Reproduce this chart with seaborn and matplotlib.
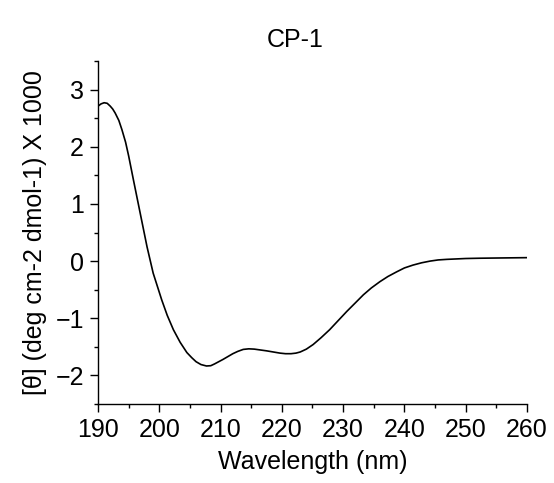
import numpy as np
import pandas as pd
import matplotlib
matplotlib.use("Agg")
import matplotlib.pyplot as plt
from matplotlib.ticker import MultipleLocator
import seaborn as sns

# values
wavelength = [190.0, 190.5, 191.0, 191.5, 192.0, 192.4, 192.8, 193.4, 193.9, 194.5,
              195.0, 195.8, 196.9, 198.0, 199.0, 200.4, 201.3, 202.3, 203.4, 204.5,
              205.3, 206.0, 206.8, 207.7, 208.4, 209.0, 210.4, 211.2, 212.0, 212.8,
              213.7, 214.6, 215.5, 216.5, 217.5, 218.6, 219.7, 220.6, 221.5, 222.3,
              223.0, 224.0, 225.1, 226.4, 227.8, 229.2, 230.6, 232.0, 233.3, 234.6,
              236.0, 237.3, 238.7, 240.0, 241.4, 242.8, 244.2, 245.5, 246.9, 250.0,
              252.3, 256.0, 260.0]
ellipticity = [2.71, 2.75, 2.77, 2.76, 2.71, 2.66, 2.59, 2.46, 2.30, 2.08,
               1.84, 1.41, 0.83, 0.25, -0.21, -0.68, -0.95, -1.20, -1.42, -1.60,
               -1.69, -1.76, -1.81, -1.835, -1.83, -1.80, -1.72, -1.67, -1.62, -1.58,
               -1.545, -1.535, -1.54, -1.555, -1.57, -1.59, -1.61, -1.62, -1.62, -1.61,
               -1.59, -1.54, -1.46, -1.34, -1.20, -1.04, -0.88, -0.73, -0.59, -0.47,
               -0.36, -0.27, -0.19, -0.12, -0.07, -0.03, 0.00, 0.02, 0.03, 0.045,
               0.05, 0.055, 0.06]
x_ticks = [190, 200, 210, 220, 230, 240, 250, 260]
y_ticks = [-2, -1, 0, 1, 2, 3]

df = pd.DataFrame({"wavelength": wavelength, "theta": ellipticity})

sns.set_style("ticks")
plt.rcParams['font.family'] = ['Liberation Sans', 'DejaVu Sans']
plt.rcParams['text.color'] = 'black'
plt.rcParams['axes.labelcolor'] = 'black'
plt.rcParams['xtick.color'] = 'black'
plt.rcParams['ytick.color'] = 'black'

fig = plt.figure(figsize=(5.54, 4.83), dpi=100)
ax = fig.add_axes([98 / 554, 79 / 483, 429 / 554, 343 / 483])

sns.lineplot(data=df, x="wavelength", y="theta", ax=ax, color="black", linewidth=1.2)

ax.set_xlim(190, 260)
ax.set_ylim(-2.5, 3.5)
ax.set_xticks(x_ticks)
ax.set_yticks(y_ticks)
ax.xaxis.set_minor_locator(MultipleLocator(5))
ax.yaxis.set_minor_locator(MultipleLocator(0.5))
ax.tick_params(which="major", length=6, width=1, labelsize=18, color="black", pad=4)
ax.tick_params(which="minor", length=3, width=1, color="black")
for s in ["top", "right"]:
    ax.spines[s].set_visible(False)
for s in ["left", "bottom"]:
    ax.spines[s].set_color("black")
    ax.spines[s].set_linewidth(1)

ax.set_xlabel("Wavelength (nm)", fontsize=18, labelpad=6)
ax.set_ylabel("[θ] (deg cm-2 dmol-1) X 1000", fontsize=18, labelpad=6)
fig.text(295 / 554, 1 - 40 / 483, "CP-1", fontsize=18, ha="center", va="center")

fig.savefig("out.png", dpi=100)
